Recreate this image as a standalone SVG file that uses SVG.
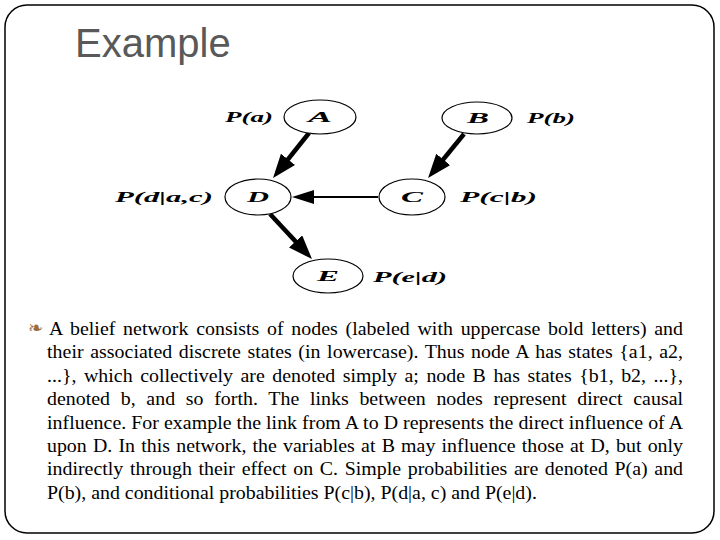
<svg xmlns="http://www.w3.org/2000/svg" width="720" height="540" viewBox="0 0 720 540">
<defs>
<style>
.frame{fill:#fff;stroke:#000;stroke-width:1.5}
.title{font-family:"Liberation Sans",Arial,sans-serif;font-size:40px;fill:#595959}
.node ellipse{fill:#fff;stroke:#000;stroke-width:1.2}
.nl{font-family:"Liberation Serif","Times New Roman",serif;font-weight:bold;font-style:italic;font-size:15px;fill:#000}
.lbl{font-family:"Liberation Serif","Times New Roman",serif;font-weight:bold;font-style:italic;font-size:15px;fill:#000}
.thick{stroke:#000;stroke-width:4.5;fill:none}
.thin{stroke:#000;stroke-width:2;fill:none}
.body{font-family:"Liberation Serif","Times New Roman",serif;font-size:18px;fill:#000}
.bullet{font-family:"DejaVu Sans",sans-serif;font-size:18px;fill:#9c6b3a}
</style>
<marker id="ah" markerUnits="userSpaceOnUse" markerWidth="24" markerHeight="18" refX="17" refY="9" orient="auto">
<path d="M0,0 L24,9 L0,18 z" fill="#000"/>
</marker>
<marker id="ah2" markerUnits="userSpaceOnUse" markerWidth="22" markerHeight="14" refX="16" refY="7" orient="auto">
<path d="M0,0 L22,7 L0,14 z" fill="#000"/>
</marker>
</defs>
<rect class="frame" x="5" y="5" width="709" height="528" rx="22" ry="22"/>
<text class="title" x="75" y="57">Example</text>

<g id="connectors">
<line class="thick" x1="309" y1="133" x2="277.4" y2="172.6" marker-end="url(#ah)"/>
<line class="thick" x1="464" y1="134" x2="432.5" y2="172.6" marker-end="url(#ah)"/>
<line class="thin" x1="378" y1="197" x2="298" y2="197" marker-end="url(#ah2)"/>
<line class="thick" x1="270" y1="214" x2="307.2" y2="253.9" marker-end="url(#ah)"/>
</g>

<g id="node-A" class="node">
<ellipse cx="320" cy="117" rx="36" ry="17"/>
<text class="nl" x="320" y="122" text-anchor="middle" textLength="24" lengthAdjust="spacingAndGlyphs">A</text>
<text class="lbl" x="225" y="122" textLength="48" lengthAdjust="spacingAndGlyphs">P(a)</text>
</g>
<g id="node-B" class="node">
<ellipse cx="477" cy="118" rx="35" ry="16"/>
<text class="nl" x="478" y="123" text-anchor="middle" textLength="22" lengthAdjust="spacingAndGlyphs">B</text>
<text class="lbl" x="527" y="123" textLength="48" lengthAdjust="spacingAndGlyphs">P(b)</text>
</g>
<g id="node-D" class="node">
<ellipse cx="258" cy="197" rx="33" ry="18"/>
<text class="nl" x="258" y="202" text-anchor="middle" textLength="22" lengthAdjust="spacingAndGlyphs">D</text>
<text class="lbl" x="115" y="202" textLength="98" lengthAdjust="spacingAndGlyphs">P(d|a,c)</text>
</g>
<g id="node-C" class="node">
<ellipse cx="412" cy="197" rx="33" ry="18"/>
<text class="nl" x="412" y="202" text-anchor="middle" textLength="22" lengthAdjust="spacingAndGlyphs">C</text>
<text class="lbl" x="460" y="202" textLength="77" lengthAdjust="spacingAndGlyphs">P(c|b)</text>
</g>
<g id="node-E" class="node">
<ellipse cx="328" cy="276" rx="35" ry="17"/>
<text class="nl" x="328" y="281" text-anchor="middle" textLength="22" lengthAdjust="spacingAndGlyphs">E</text>
<text class="lbl" x="373" y="282" textLength="74" lengthAdjust="spacingAndGlyphs">P(e|d)</text>
</g>

<text class="bullet" x="28" y="334">❧</text>
<g id="body" transform="translate(47,0) scale(1.105,1)">
<text class="body" x="1.8" y="335" word-spacing="2.49" textLength="573.8" lengthAdjust="spacing">A belief network consists of nodes (labeled with uppercase bold letters) and</text>
<text class="body" x="0" y="358.5" word-spacing="1.38" textLength="575.6" lengthAdjust="spacing">their associated discrete states (in lowercase). Thus node A has states {a1, a2,</text>
<text class="body" x="0" y="382" word-spacing="2.32" textLength="575.6" lengthAdjust="spacing">...}, which collectively are denoted simply a; node B has states {b1, b2, ...},</text>
<text class="body" x="0" y="405.5" word-spacing="5.2" textLength="575.6" lengthAdjust="spacing">denoted b, and so forth. The links between nodes represent direct causal</text>
<text class="body" x="0" y="429" textLength="575.6" lengthAdjust="spacing">influence. For example the link from A to D represents the direct influence of A</text>
<text class="body" x="0" y="452" word-spacing="1.11" textLength="575.6" lengthAdjust="spacing">upon D. In this network, the variables at B may influence those at D, but only</text>
<text class="body" x="0" y="475.5" word-spacing="1.51" textLength="575.6" lengthAdjust="spacing">indirectly through their effect on C. Simple probabilities are denoted P(a) and</text>
<text class="body" x="0" y="499">P(b), and conditional probabilities P(c|b), P(d|a, c) and P(e|d).</text>
</g>
</svg>
